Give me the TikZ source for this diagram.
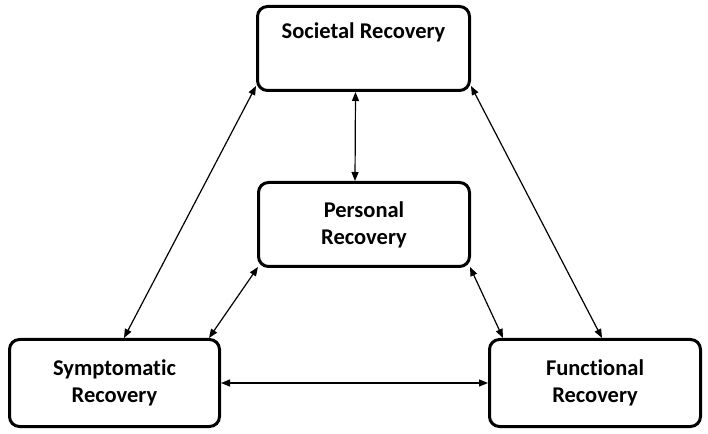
\documentclass[tikz,border=0pt]{standalone}
\usepackage{fontspec}
\setmainfont{Carlito}[Ligatures=NoCommon]
\usetikzlibrary{arrows.meta}

\begin{document}
\begin{tikzpicture}[x=1pt,y=1pt,
	recbox/.style={draw, line width=3pt, rounded corners=10pt, align=center,
		font=\fontsize{22.5}{27}\selectfont\bfseries, inner sep=0pt},
	link/.style={{Triangle[length=9pt,width=7pt]}-{Triangle[length=9pt,width=7pt]}, line width=1.2pt}]
	%%%%% START %%%%%
	
	\useasboundingbox (0,0) rectangle (708,433);
	
	\node[recbox, minimum width=212, minimum height=84] (societal) at (363.5,384.5) {Societal Recovery\\\strut};
	\node[recbox, minimum width=211, minimum height=84] (personal) at (364,208.5) {Personal\\Recovery};
	\node[recbox, minimum width=210, minimum height=87] (symptomatic) at (114.5,50) {Symptomatic\\Recovery};
	\node[recbox, minimum width=211, minimum height=87] (functional) at (595,50) {Functional\\Recovery};
	
	\draw[link] ([xshift=-8pt]societal.south) -- ([xshift=-9pt]personal.north);
	\draw[link] ([yshift=6pt]societal.south west) -- ([xshift=9.5pt]symptomatic.north);
	\draw[link] ([yshift=6pt]societal.south east) -- ([xshift=7pt]functional.north);
	\draw[link] ([xshift=1pt,yshift=1pt]personal.south west) -- ([xshift=-12pt]symptomatic.north east);
	\draw[link] ([xshift=-1pt,yshift=1pt]personal.south east) -- ([xshift=15pt]functional.north west);
	\draw[link] (symptomatic.east) -- (functional.west);
	
	%%%%% END %%%%%
\end{tikzpicture}
\end{document}
